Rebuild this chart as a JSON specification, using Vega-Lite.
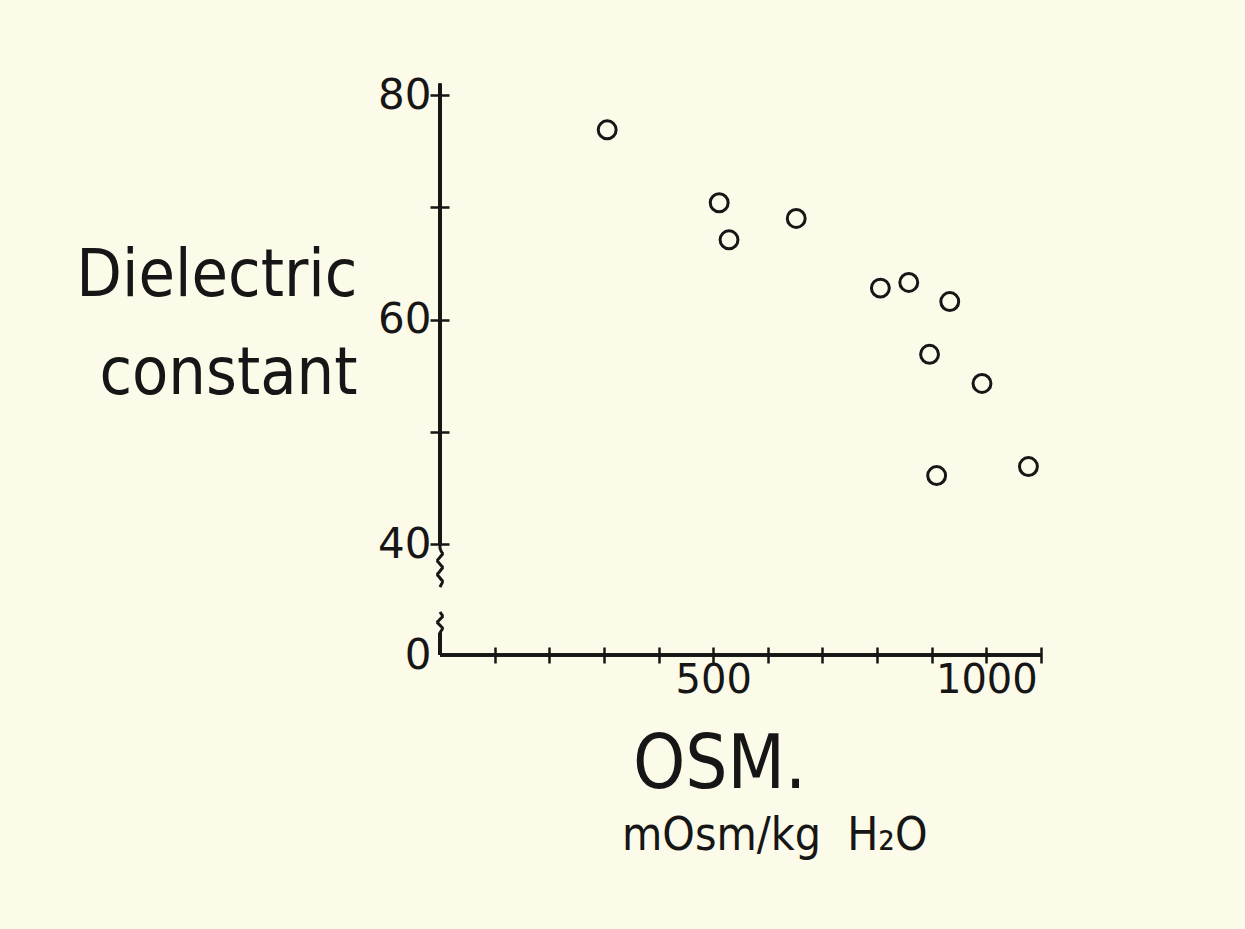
{
  "$schema": "https://vega.github.io/schema/vega-lite/v6.json",
  "width": 601,
  "height": 560,
  "autosize": {"type": "none"},
  "padding": {"left": 440, "top": 95, "right": 204, "bottom": 274},
  "background": "#fcfae8",
  "config": {"view": {"stroke": null}, "font": "DejaVu Sans"},
  "title": {
    "text": "mOsm/kg\u00a0\u00a0H₂O",
    "orient": "bottom",
    "anchor": "start",
    "frame": "group",
    "dx": 182,
    "offset": 12,
    "fontSize": 46,
    "font": "DejaVu Sans Condensed, DejaVu Sans",
    "fontWeight": "normal",
    "color": "#161616"
  },
  "datasets": {
    "points": [
      {"osm": 306, "dielectric": 76.9},
      {"osm": 511, "dielectric": 70.4},
      {"osm": 529, "dielectric": 67.1},
      {"osm": 652, "dielectric": 69.0},
      {"osm": 806, "dielectric": 62.8},
      {"osm": 858, "dielectric": 63.3},
      {"osm": 933, "dielectric": 61.6},
      {"osm": 896, "dielectric": 56.9},
      {"osm": 992, "dielectric": 54.3},
      {"osm": 909, "dielectric": 46.1},
      {"osm": 1077, "dielectric": 46.9}
    ],
    "breaks": [
      {"seg": "upper", "i": 0, "bx": 0, "by": 40},
      {"seg": "upper", "i": 1, "bx": 0, "by": 38.5},
      {"seg": "upper", "i": 2, "bx": 7, "by": 36.5},
      {"seg": "upper", "i": 3, "bx": -7, "by": 34},
      {"seg": "upper", "i": 4, "bx": 7, "by": 31.5},
      {"seg": "upper", "i": 5, "bx": -7, "by": 29},
      {"seg": "upper", "i": 6, "bx": 7, "by": 26.5},
      {"seg": "upper", "i": 7, "bx": 0, "by": 24.5},
      {"seg": "lower", "i": 0, "bx": 0, "by": 15.5},
      {"seg": "lower", "i": 1, "bx": 7, "by": 14},
      {"seg": "lower", "i": 2, "bx": -7, "by": 11.8},
      {"seg": "lower", "i": 3, "bx": 7, "by": 9.6},
      {"seg": "lower", "i": 4, "bx": 0, "by": 8}
    ]
  },
  "data": {"name": "points"},
  "layer": [
    {
      "mark": {"type": "rule", "stroke": "#161616", "strokeWidth": 2.6, "clip": false},
      "encoding": {"x": {"datum": 0}, "y": {"datum": 40}, "y2": {"datum": 81}}
    },
    {
      "mark": {"type": "rule", "stroke": "#161616", "strokeWidth": 2.6, "clip": false},
      "encoding": {"x": {"datum": 0}, "y": {"datum": 0}, "y2": {"datum": 8}}
    },
    {
      "mark": {"type": "rule", "stroke": "#161616", "strokeWidth": 2.6, "clip": false},
      "encoding": {"x": {"datum": 0}, "x2": {"datum": 1100}, "y": {"datum": 0}}
    },
    {
      "data": {"name": "breaks"},
      "mark": {"type": "line", "stroke": "#161616", "strokeWidth": 3, "interpolate": "monotone", "clip": false},
      "encoding": {
        "x": {"field": "bx", "type": "quantitative"},
        "y": {"field": "by", "type": "quantitative"},
        "detail": {"field": "seg"},
        "order": {"field": "i", "type": "quantitative"}
      }
    },
    {
      "mark": {"type": "point", "shape": "circle", "filled": false, "stroke": "#161616", "strokeWidth": 3, "size": 320, "opacity": 1},
      "encoding": {
        "x": {
          "field": "osm",
          "type": "quantitative",
          "scale": {"domain": [0, 1100], "nice": false, "zero": false},
          "axis": {
            "values": [100, 200, 300, 400, 500, 600, 700, 800, 900, 1000, 1100],
            "format": "d",
            "offset": -8,
            "tickSize": 16,
            "tickWidth": 2.5,
            "tickColor": "#161616",
            "domain": false,
            "grid": false,
            "labelExpr": "datum.value == 500 || datum.value == 1000 ? datum.label : ''",
            "labelFontSize": 40,
            "labelFont": "DejaVu Sans",
            "labelColor": "#161616",
            "labelPadding": -3,
            "labelFlush": false,
            "labelOverlap": false,
            "title": "OSM.",
            "titleFontSize": 74,
            "titleFont": "DejaVu Sans Condensed, DejaVu Sans",
            "titleFontWeight": "normal",
            "titleColor": "#161616",
            "titleX": 279,
            "titleY": 140,
            "titleAlign": "center",
            "titleBaseline": "alphabetic"
          }
        },
        "y": {
          "field": "dielectric",
          "type": "quantitative",
          "scale": {"domain": [0, 40, 80], "range": [560, 449, 0], "nice": false, "zero": false},
          "axis": {
            "values": [0, 40, 50, 60, 70, 80],
            "offset": -9,
            "tickSize": 19,
            "tickWidth": 2.5,
            "tickColor": "#161616",
            "tickOpacity": {"condition": {"test": "datum.value == 0", "value": 0}, "value": 1},
            "domain": false,
            "grid": false,
            "labelExpr": "datum.value == 50 || datum.value == 70 ? '' : datum.label",
            "labelFontSize": 42,
            "labelFont": "DejaVu Sans",
            "labelColor": "#161616",
            "labelPadding": -1,
            "labelBaseline": "middle",
            "labelFlush": false,
            "labelOverlap": false,
            "title": ["Dielectric", "constant"],
            "titleAngle": 0,
            "titleFontSize": 66,
            "titleFont": "DejaVu Sans Condensed, DejaVu Sans",
            "titleFontWeight": "normal",
            "titleColor": "#161616",
            "titleAlign": "right",
            "titleBaseline": "alphabetic",
            "titleLineHeight": 98,
            "titleX": -92,
            "titleY": 200
          }
        }
      }
    }
  ]
}
